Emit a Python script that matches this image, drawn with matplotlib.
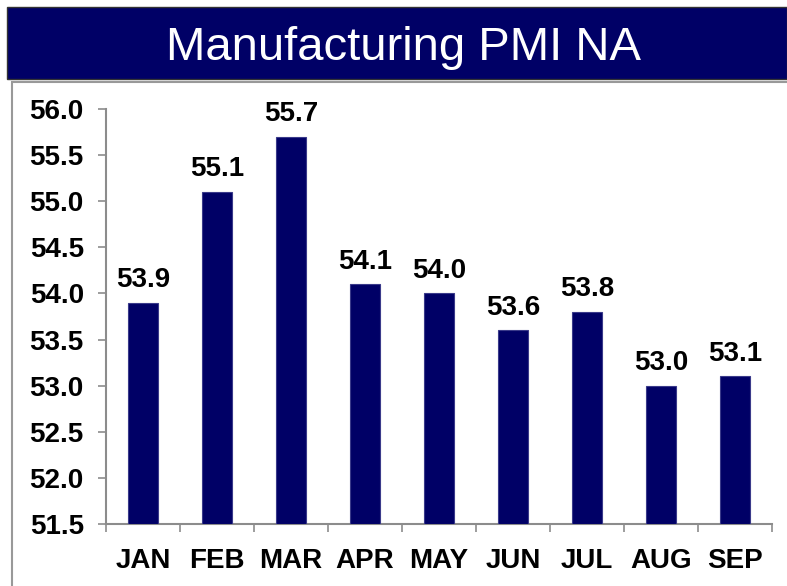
import numpy as np
import matplotlib.pyplot as plt
import matplotlib.patches as patches

months = ["JAN", "FEB", "MAR", "APR", "MAY", "JUN", "JUL", "AUG", "SEP"]
pmi = [53.9, 55.1, 55.7, 54.1, 54.0, 53.6, 53.8, 53.0, 53.1]
y_ticks = [51.5, 52.0, 52.5, 53.0, 53.5, 54.0, 54.5, 55.0, 55.5, 56.0]

navy = "#000066"
gray = "#8c8c8c"
font = ["Liberation Sans", "DejaVu Sans"]

fig = plt.figure(figsize=(7.87, 5.86), dpi=100)
W, H = 787, 586

# Title banner
fig.patches.append(
    patches.Rectangle(
        (7 / W, 1 - 79 / H), 1 - 7 / W, 72 / H,
        transform=fig.transFigure, facecolor=navy, edgecolor="#333333",
        linewidth=1, zorder=-2,
    )
)
fig.text(
    404 / W, 1 - 48 / H, "Manufacturing PMI NA", color="white",
    fontsize=34, ha="center", va="center",
    family=["Liberation Sans Narrow", "Liberation Sans", "DejaVu Sans"],
)

# Content frame
fig.patches.append(
    patches.Rectangle(
        (12 / W, -0.05), 1.1, 1 - 82 / H + 0.05,
        transform=fig.transFigure, facecolor="white", edgecolor="#999999",
        linewidth=1.5, zorder=-2,
    )
)

ax = fig.add_axes([106 / W, 1 - 524 / H, (772 - 106) / W, (524 - 109) / H])
ax.set_facecolor("none")
ax.set_zorder(2)

x = np.arange(len(months))
bars = ax.bar(x, np.array(pmi) - 51.5, bottom=51.5, width=0.4,
              color=navy, edgecolor="#3a3a8a", linewidth=0.8, zorder=3)

for xi, v in zip(x, pmi):
    ax.annotate(f"{v:.1f}", (xi, v), xytext=(0, 7), textcoords="offset points",
                ha="center", va="bottom", fontsize=20, fontweight="bold",
                family=font)

ax.set_xlim(-0.5, len(months) - 0.5)
ax.set_ylim(51.5, 56.0)
ax.set_yticks(y_ticks)
ax.set_yticklabels([f"{t:.1f}" for t in y_ticks])
ax.set_xticks(x)
ax.set_xticklabels(months)
ax.set_xticks(np.arange(-0.5, len(months)), minor=True)

for s in ["top", "right"]:
    ax.spines[s].set_visible(False)
for s in ["left", "bottom"]:
    ax.spines[s].set_color(gray)
    ax.spines[s].set_linewidth(1.5)

ax.tick_params(axis="y", direction="out", length=6, width=1.2, color=gray,
               pad=10, labelsize=20)
ax.tick_params(axis="x", which="major", length=0, pad=17, labelsize=20)
ax.tick_params(axis="x", which="minor", direction="out", length=6, width=1.2,
               color=gray)
for lab in ax.get_xticklabels() + ax.get_yticklabels():
    lab.set_fontweight("bold")
    lab.set_family(font)

fig.savefig("out.png", dpi=100)
